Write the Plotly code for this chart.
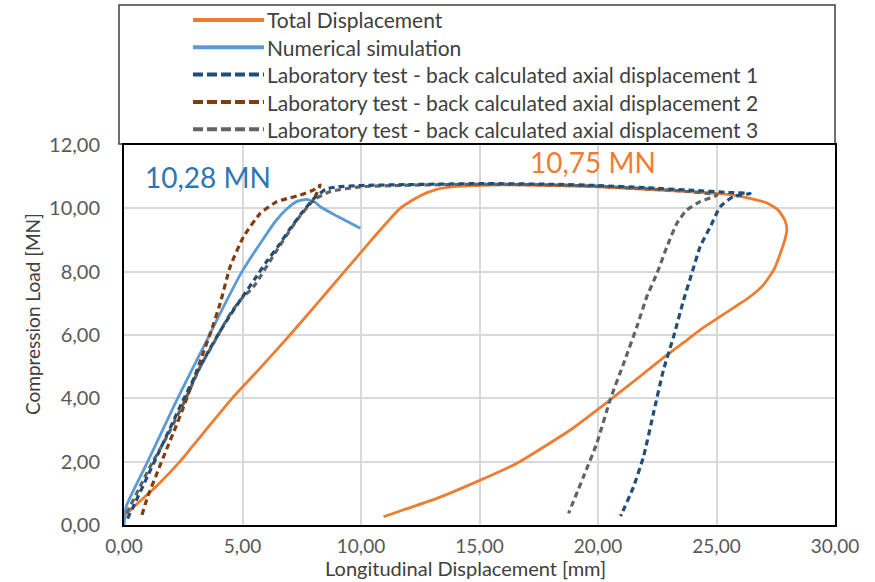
import plotly.graph_objects as go

# ---------------- data ----------------
total_x = [0.0, 0.6, 1.4, 2.36, 3.4, 4.56, 5.8, 7.0, 8.1, 9.3, 10.5, 11.65, 12.5, 13.2, 14.0, 14.8,
           16.0, 18.0, 20.0, 22.0, 24.0, 25.0, 25.7, 26.5, 27.13, 27.6, 27.88, 27.97, 27.9, 27.75,
           27.45, 27.0, 26.4, 25.7, 24.31, 23.75, 22.91, 21.7, 20.51, 18.83, 16.58, 14.89, 13.2,
           11.8, 10.95]
total_y = [0.28, 0.7, 1.25, 2.0, 2.95, 4.0, 5.0, 6.0, 6.95, 8.0, 9.05, 10.0, 10.4, 10.6, 10.69,
           10.72, 10.74, 10.72, 10.68, 10.6, 10.52, 10.47, 10.42, 10.3, 10.17, 9.95, 9.63, 9.35,
           9.05, 8.7, 8.1, 7.6, 7.2, 6.85, 6.16, 5.84, 5.37, 4.65, 3.95, 3.0, 1.95, 1.37, 0.84,
           0.48, 0.26]

num_x = [0.0, 0.1, 1.0, 2.23, 3.5, 4.34, 4.9, 5.4, 5.89, 6.4, 6.9, 7.3, 7.7, 8.05, 8.28, 9.0, 9.97]
num_y = [0.0, 0.6, 2.0, 3.95, 5.84, 7.1, 7.9, 8.5, 9.05, 9.6, 10.0, 10.22, 10.28, 10.2, 10.05, 9.75, 9.37]

lab1_x = [0.15, 0.5, 1.0, 1.5, 2.0, 2.5, 3.0, 3.5, 4.0, 4.5, 5.0, 5.5, 6.0, 6.5, 7.0, 7.5, 8.0, 8.5,
          9.0, 10.0, 12.0, 15.0, 18.0, 20.0, 22.0, 24.0, 25.5, 26.42, 25.71, 25.16, 24.74, 24.31,
          23.96, 23.61, 23.19, 22.76, 22.34, 21.92, 21.5, 21.01, 20.95]
lab1_y = [0.2, 0.75, 1.55, 2.35, 3.15, 3.95, 4.7, 5.4, 6.05, 6.65, 7.2, 7.75, 8.3, 8.8, 9.35, 9.85,
          10.3, 10.6, 10.68, 10.72, 10.75, 10.78, 10.76, 10.72, 10.65, 10.57, 10.5, 10.47, 10.37,
          10.05, 9.42, 8.79, 7.95, 7.1, 5.95, 4.89, 3.53, 2.16, 1.21, 0.37, 0.28]

lab2_x = [0.76, 1.0, 1.39, 1.8, 2.16, 2.55, 2.93, 3.3, 3.64, 4.06, 4.48, 5.04, 5.75, 6.45, 7.0,
          7.43, 8.0, 8.28, 8.15, 7.95]
lab2_y = [0.32, 0.9, 1.63, 2.4, 3.05, 3.8, 4.58, 5.35, 6.05, 7.0, 8.16, 9.1, 9.84, 10.21, 10.33,
          10.42, 10.58, 10.74, 10.5, 10.2]

lab3_x = [0.11, 0.6, 1.1, 1.81, 2.51, 3.22, 3.78, 4.41, 4.9, 5.46, 6.45, 7.3, 8.0, 8.7, 9.97, 12.0,
          15.0, 18.0, 20.0, 22.0, 23.5, 25.02, 24.31, 23.75, 23.33, 22.91, 22.49, 22.06, 21.64,
          21.08, 20.51, 19.95, 19.39, 18.76]
lab3_y = [0.37, 1.1, 1.84, 2.79, 3.84, 5.0, 5.74, 6.58, 7.1, 7.52, 8.68, 9.63, 10.26, 10.53, 10.68,
          10.73, 10.76, 10.74, 10.7, 10.62, 10.55, 10.42, 10.21, 9.95, 9.53, 8.79, 7.95, 7.21, 6.26,
          5.1, 3.95, 2.58, 1.53, 0.37]

series_names = ["Total Displacement", "Numerical simulation",
                "Laboratory test - back calculated axial displacement 1",
                "Laboratory test - back calculated axial displacement 2",
                "Laboratory test - back calculated axial displacement 3"]
series_colors = ["#ED7D31", "#5B9BD5", "#1F4E79", "#843C0C", "#636363"]
series_dash = ["solid", "solid", "dash", "dash", "dash"]

x_ticks = [0, 5, 10, 15, 20, 25, 30]
y_ticks = [0, 2, 4, 6, 8, 10, 12]

peak_labels = ["10,28 MN", "10,75 MN"]
peak_label_xy = [(3.55, 11.0), (19.8, 11.47)]
peak_label_colors = ["#2E75B6", "#ED7D31"]

FONT = "Lato"
fig = go.Figure()

xs = [total_x, num_x, lab1_x, lab2_x, lab3_x]
ys = [total_y, num_y, lab1_y, lab2_y, lab3_y]
widths = [2.8, 2.8, 3.2, 3.2, 3.2]
order = [0, 1, 4, 3, 2]
for i in order:
    fig.add_trace(go.Scatter(
        x=xs[i], y=ys[i], mode="lines", name=series_names[i],
        line=dict(color=series_colors[i], width=widths[i],
                  dash="solid" if series_dash[i] == "solid" else "6px,4px",
                  shape="spline", smoothing=0.5),
        showlegend=False, hoverinfo="skip"))

# ---- boxed key above the plot ----
L, R, T, B = 124, 835, 145, 525
W, H = R - L, B - T
def px(x):
    return (x - L) / W
def py(y):
    return (B - y) / H

shapes = [dict(type="rect", xref="paper", yref="paper",
               x0=px(119), x1=px(835), y0=py(144), y1=py(5),
               line=dict(color="#404040", width=1.5), fillcolor="white", layer="below")]
annotations = []
rows = [20, 47.3, 74.6, 102, 129.3]
for name, col, dsh, ry in zip(series_names, series_colors, series_dash, rows):
    shapes.append(dict(type="line", xref="paper", yref="paper",
                       x0=px(193), x1=px(264), y0=py(ry), y1=py(ry),
                       line=dict(color=col, width=4,
                                 dash="solid" if dsh == "solid" else "10px,4px")))
    annotations.append(dict(text=name, xref="paper", yref="paper", x=px(265), y=py(ry),
                            xanchor="left", yanchor="middle", showarrow=False,
                            font=dict(family=FONT, size=21, color="#404040")))

for txt, (ax, ay), col in zip(peak_labels, peak_label_xy, peak_label_colors):
    annotations.append(dict(text=txt, x=ax, y=ay, xref="x", yref="y", showarrow=False,
                            xanchor="center", yanchor="middle",
                            font=dict(family=FONT, size=28, color=col)))

annotations.append(dict(text="Compression Load [MN]", xref="paper", yref="paper",
                        x=px(32), y=py(314), textangle=-90, showarrow=False,
                        xanchor="center", yanchor="middle",
                        font=dict(family=FONT, size=19, color="#404040")))
annotations.append(dict(text="Longitudinal Displacement [mm]", xref="paper", yref="paper",
                        x=px(465), y=py(568), showarrow=False,
                        xanchor="center", yanchor="middle", borderpad=0,
                        font=dict(family=FONT, size=20, color="#404040")))

fig.update_layout(
    width=875, height=582,
    margin=dict(l=L, r=875 - R, t=T, b=582 - B),
    paper_bgcolor="white", plot_bgcolor="white",
    separators=",.",
    shapes=shapes, annotations=annotations,
    xaxis=dict(range=[0, 30], tickvals=x_ticks, tickformat=".2f",
               showgrid=True, gridcolor="#D9D9D9", gridwidth=1.5,
               showline=True, linecolor="black", linewidth=2, mirror=True,
               zeroline=False, ticks="", ticklabelstandoff=3,
               tickfont=dict(family=FONT, size=19, color="#595959")),
    yaxis=dict(range=[0, 12], tickvals=y_ticks, tickformat=".2f",
               showgrid=True, gridcolor="#D9D9D9", gridwidth=1.5,
               showline=True, linecolor="black", linewidth=2, mirror=True,
               zeroline=False, ticks="", ticklabelstandoff=18,
               tickfont=dict(family=FONT, size=20, color="#595959")),
    showlegend=False,
)

fig.write_html("out.html", config={"displayModeBar": False},
               post_script="document.body.style.margin='0';")
